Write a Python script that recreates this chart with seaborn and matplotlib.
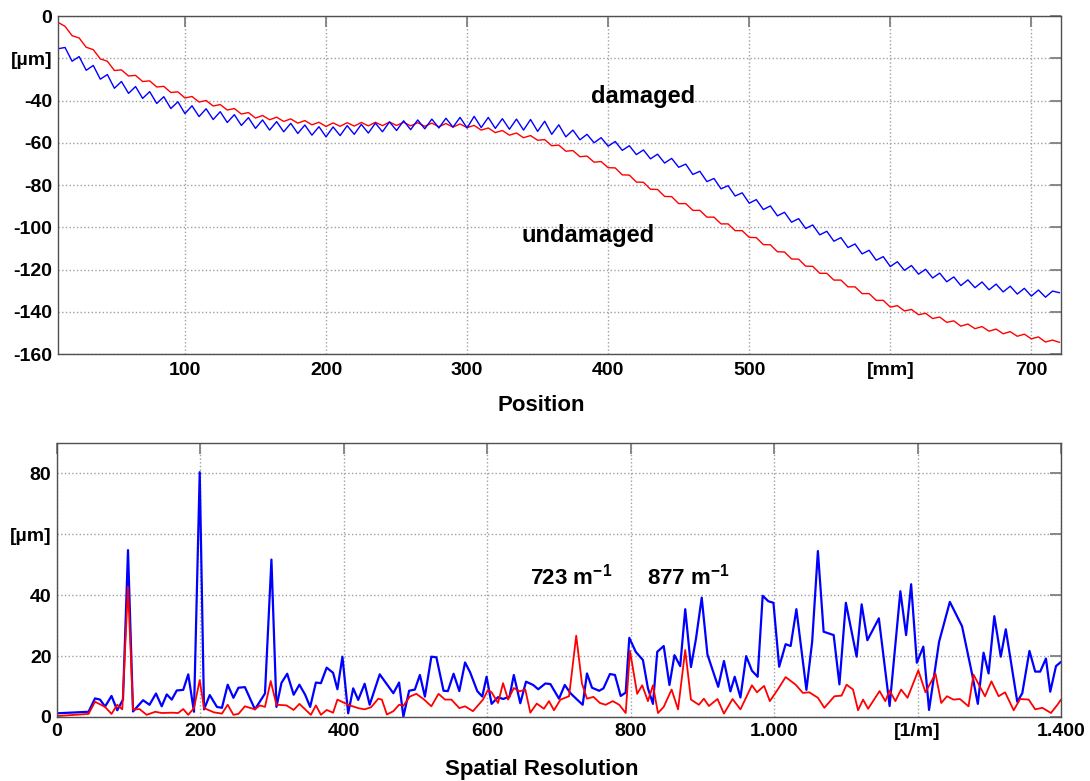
import numpy as np
import seaborn as sns
import matplotlib.pyplot as plt

# upper chart: profile along the rail, sampled every 5 mm
position = np.arange(10, 721, 5)
undamaged = [
    -3.0, -4.9, -9.3, -10.4, -14.8, -15.9, -20.3, -21.4, -25.8, -25.5,
    -28.4, -28.1, -31.0, -30.7, -33.6, -33.3, -36.2, -35.9, -38.8, -38.1,
    -40.7, -40.0, -42.6, -41.9, -44.5, -43.8, -46.4, -45.7, -48.3, -47.1,
    -49.1, -47.9, -49.9, -48.7, -50.7, -49.5, -51.5, -50.3, -52.3, -50.6,
    -52.2, -50.5, -52.1, -50.4, -52.0, -50.3, -51.9, -50.2, -51.8, -50.3,
    -52.0, -50.5, -52.2, -50.7, -52.4, -50.9, -52.6, -51.1, -52.8, -51.8,
    -54.0, -53.0, -55.2, -54.2, -56.4, -55.4, -57.6, -56.6, -58.8, -58.5,
    -61.4, -61.1, -64.0, -63.7, -66.6, -66.3, -69.2, -68.9, -71.8, -71.9,
    -75.2, -75.3, -78.6, -78.7, -82.0, -82.1, -85.4, -85.5, -88.8, -88.8,
    -92.0, -92.0, -95.2, -95.2, -98.4, -98.4, -101.6, -101.6, -104.8, -104.9,
    -108.2, -108.3, -111.6, -111.7, -115.0, -115.1, -118.4, -118.5, -121.8, -121.8,
    -125.0, -125.0, -128.2, -128.2, -131.4, -131.4, -134.6, -134.6, -137.8, -137.1,
    -139.6, -138.9, -141.4, -140.7, -143.2, -142.5, -145.0, -144.3, -146.8, -145.8,
    -148.0, -147.0, -149.2, -148.2, -150.4, -149.4, -151.6, -150.6, -152.8, -151.9,
    -154.3, -153.4, -154.5]
damaged = [
    -15.5, -14.9, -21.4, -19.2, -25.7, -23.4, -29.9, -27.7, -34.2, -31.0,
    -36.6, -33.4, -39.0, -35.8, -41.4, -38.2, -43.8, -40.6, -46.2, -42.5,
    -47.6, -43.9, -49.0, -45.3, -50.4, -46.7, -51.8, -48.1, -53.2, -49.2,
    -54.0, -50.0, -54.8, -50.8, -55.6, -51.6, -56.4, -52.4, -57.2, -52.5,
    -56.6, -51.9, -56.0, -51.3, -55.4, -50.7, -54.8, -50.1, -54.2, -49.6,
    -53.8, -49.2, -53.4, -48.8, -53.0, -48.4, -52.6, -48.0, -53.0, -47.5,
    -52.8, -48.0, -53.2, -48.6, -53.6, -48.8, -54.0, -49.0, -54.6, -49.8,
    -56.0, -51.5, -57.2, -54.0, -58.6, -56.0, -60.0, -57.6, -61.6, -59.4,
    -63.6, -61.4, -65.6, -63.4, -67.6, -65.4, -69.6, -67.4, -71.6, -70.1,
    -75.0, -73.5, -78.4, -76.9, -81.8, -80.3, -85.2, -83.7, -88.6, -86.9,
    -91.6, -89.9, -94.6, -92.9, -97.6, -95.9, -100.6, -98.9, -103.6, -101.9,
    -106.6, -104.9, -109.6, -107.9, -112.6, -110.9, -115.6, -113.9, -118.6, -116.3,
    -120.4, -118.1, -122.2, -119.9, -124.0, -121.7, -125.8, -123.5, -127.6, -124.9,
    -128.6, -125.9, -129.6, -126.9, -130.6, -127.9, -131.6, -128.9, -132.6, -129.7,
    -133.1, -130.2, -131.0]

# lower chart: spectra
freq_damaged = [
    0, 44, 53, 60, 67, 76, 84, 92, 99, 106, 120, 129, 138, 146, 153, 160, 167, 176, 183, 191,
    199, 205, 213, 223, 230, 238, 246, 253, 262, 276, 290, 299, 306, 313, 321, 330, 338, 346, 353, 361,
    368, 376, 385, 391, 398, 406, 413, 420, 429, 436, 450, 469, 477, 483, 491, 499, 506, 513, 522, 529,
    539, 545, 553, 561, 569, 576, 586, 593, 599, 606, 615, 622, 631, 637, 646, 654, 664, 671, 681, 688,
    700, 708, 716, 723, 733, 739, 746, 756, 762, 771, 778, 786, 793, 798, 807, 817, 824, 831, 837, 846,
    854, 861, 869, 876, 884, 891, 899, 907, 922, 930, 939, 945, 953, 961, 969, 977, 984, 992, 999, 1007,
    1016, 1023, 1031, 1045, 1053, 1061, 1069, 1083, 1091, 1100, 1115, 1122, 1130, 1146, 1161, 1176, 1184, 1191, 1199, 1208,
    1216, 1230, 1245, 1262, 1276, 1284, 1292, 1299, 1307, 1316, 1323, 1339, 1346, 1356, 1364, 1371, 1379, 1385, 1393, 1400]
amp_damaged = [
    1.2, 1.7, 6.1, 5.7, 3.4, 6.9, 2.2, 5.7, 54.8, 1.8, 5.5, 4.0, 7.7, 3.5, 7.4, 5.7, 8.7, 8.9, 14.0, 1.7,
    80.4, 2.5, 7.2, 3.3, 3.0, 10.6, 6.3, 9.6, 9.8, 2.5, 7.7, 51.7, 3.3, 11.2, 14.2, 7.3, 10.6, 7.3, 3.3, 11.3,
    11.1, 16.2, 14.5, 9.1, 19.8, 1.2, 9.4, 5.6, 10.9, 4.0, 14.0, 7.8, 11.3, 0.1, 8.6, 9.0, 13.8, 6.7, 19.8, 19.6,
    8.6, 8.5, 14.2, 8.5, 17.9, 14.7, 8.5, 6.7, 13.2, 4.3, 6.5, 5.9, 6.7, 13.8, 4.5, 11.6, 10.5, 9.1, 11.0, 10.8,
    6.0, 10.5, 7.8, 6.2, 4.0, 14.3, 9.6, 8.6, 9.4, 14.1, 13.8, 6.9, 8.0, 26.0, 21.4, 18.7, 9.4, 4.3, 21.4, 23.3,
    10.5, 20.3, 16.7, 35.4, 16.4, 25.7, 39.2, 20.5, 9.9, 18.4, 8.4, 13.2, 6.4, 20.0, 15.2, 13.2, 39.8, 38.0, 37.5, 16.5,
    23.9, 23.3, 35.4, 8.9, 24.7, 54.5, 28.0, 26.9, 10.7, 37.5, 19.8, 37.0, 25.2, 32.4, 3.6, 41.3, 26.9, 43.6, 17.8, 23.1,
    2.3, 24.7, 37.8, 29.8, 14.1, 4.3, 21.1, 14.3, 33.1, 19.8, 28.8, 5.0, 7.8, 21.7, 14.9, 14.9, 19.2, 8.3, 16.7, 18.1]
freq_undamaged = [
    0, 44, 53, 67, 76, 84, 91, 99, 106, 115, 125, 137, 146, 160, 169, 176, 183, 191, 199, 205,
    219, 230, 238, 246, 253, 262, 276, 283, 290, 298, 306, 320, 330, 338, 354, 361, 368, 376, 385, 391,
    406, 420, 429, 438, 448, 453, 460, 469, 477, 483, 492, 501, 511, 522, 532, 541, 550, 561, 569, 580,
    594, 601, 606, 615, 622, 629, 637, 645, 653, 660, 669, 679, 686, 693, 702, 714, 724, 732, 739, 748,
    757, 765, 775, 784, 793, 799, 809, 816, 824, 831, 838, 846, 857, 866, 876, 884, 895, 902, 909, 921,
    930, 942, 953, 969, 976, 986, 994, 1005, 1016, 1030, 1040, 1049, 1061, 1070, 1084, 1094, 1101, 1110, 1117, 1124,
    1131, 1147, 1155, 1161, 1169, 1177, 1186, 1201, 1211, 1225, 1233, 1241, 1250, 1259, 1271, 1278, 1294, 1303, 1313, 1322,
    1334, 1343, 1355, 1364, 1374, 1386, 1395, 1400]
amp_undamaged = [
    0.3, 1.0, 5.0, 3.3, 1.0, 4.0, 2.5, 42.7, 2.4, 2.6, 0.7, 1.7, 1.3, 1.4, 1.3, 2.6, 0.7, 2.9, 12.1, 2.9,
    1.5, 1.1, 4.0, 0.7, 1.0, 3.5, 2.5, 3.8, 3.3, 11.8, 4.0, 3.8, 2.3, 4.3, 0.7, 3.8, 0.7, 2.3, 1.4, 5.7,
    4.0, 2.9, 2.5, 3.2, 6.0, 5.7, 0.8, 1.9, 4.0, 3.7, 6.7, 7.6, 5.9, 3.5, 7.6, 5.7, 5.7, 2.9, 3.5, 1.9,
    5.7, 8.9, 8.1, 4.6, 11.1, 5.7, 9.5, 8.4, 9.0, 1.4, 4.4, 2.7, 5.2, 2.2, 5.7, 6.8, 26.7, 11.0, 6.0, 6.6,
    4.6, 4.0, 5.2, 4.0, 1.3, 21.7, 7.6, 10.4, 5.2, 10.4, 1.3, 3.3, 9.0, 2.5, 22.0, 5.7, 4.0, 6.0, 3.6, 5.9,
    1.1, 5.9, 2.5, 10.4, 8.1, 10.2, 5.2, 9.0, 13.1, 10.6, 7.9, 8.1, 6.3, 3.0, 6.8, 7.0, 10.6, 9.0, 2.2, 5.7,
    2.7, 8.5, 5.2, 8.7, 5.2, 9.0, 6.3, 15.3, 8.1, 14.2, 4.6, 6.8, 5.7, 5.9, 3.5, 13.9, 6.8, 11.7, 6.8, 8.1,
    2.2, 5.9, 5.7, 2.5, 3.0, 1.3, 4.0, 5.7]

top_xticks = [100, 200, 300, 400, 500, 600, 700]
top_xlabels = ['100', '200', '300', '400', '500', '[mm]', '700']
top_yticks = [-160, -140, -120, -100, -80, -60, -40, -20, 0]
top_ylabels = ['-160', '-140', '-120', '-100', '-80', '-60', '-40', '[µm]', '0']
bot_xticks = [0, 200, 400, 600, 800, 1000, 1200, 1400]
bot_xlabels = ['0', '200', '400', '600', '800', '1.000', '[1/m]', '1.400']
bot_yticks = [0, 20, 40, 60, 80]
bot_ylabels = ['0', '20', '40', '[µm]', '80']

sns.set_theme(style='white')
plt.rcParams['font.family'] = ['Liberation Sans', 'DejaVu Sans']
plt.rcParams['font.weight'] = 'bold'
plt.rcParams['axes.labelweight'] = 'bold'
plt.rcParams['text.color'] = 'black'
plt.rcParams['axes.labelcolor'] = 'black'
plt.rcParams['mathtext.fontset'] = 'custom'
plt.rcParams['mathtext.rm'] = 'Liberation Sans:bold'
plt.rcParams['mathtext.default'] = 'rm'

fig = plt.figure(figsize=(10.9, 7.81), dpi=100)
ax1 = fig.add_axes([0.0532, 0.5467, 0.9202, 0.4328])
ax2 = fig.add_axes([0.0523, 0.0820, 0.9211, 0.3508])

sns.lineplot(x=position, y=undamaged, color='#ff0000', lw=1.0, ax=ax1)
sns.lineplot(x=position, y=damaged, color='#0000ff', lw=1.0, ax=ax1)
sns.lineplot(x=freq_damaged, y=amp_damaged, color='#0000ff', lw=1.6, ax=ax2)
sns.lineplot(x=freq_undamaged, y=amp_undamaged, color='#ff0000', lw=1.3, ax=ax2)

ax1.set_xlim(10, 721)
ax1.set_ylim(-160, 0)
ax1.set_xticks(top_xticks, top_xlabels)
ax1.set_yticks(top_yticks, top_ylabels)
ax2.set_xlim(0, 1400)
ax2.set_ylim(0, 90)
ax2.set_xticks(bot_xticks, bot_xlabels)
ax2.set_yticks(bot_yticks, bot_ylabels)

for ax in (ax1, ax2):
    ax.grid(True, linestyle=':', color='#a0a0a0', linewidth=1.0)
    ax.tick_params(direction='in', length=8, width=1.3, color='#808080',
                   labelcolor='black', top=True, right=True, labelsize=14, pad=4)
    for s in ax.spines.values():
        s.set_color('#505050')
        s.set_linewidth(1.0)
ax1.tick_params(axis='x', pad=6)

ax1.set_xlabel('Position', fontsize=16)
ax1.xaxis.set_label_coords(0.4816, -0.121)
ax2.set_xlabel('Spatial Resolution', fontsize=16)
ax2.xaxis.set_label_coords(0.483, -0.153)

ax1.text(425, -38, 'damaged', fontsize=17, ha='center', va='center')
ax1.text(386, -104, 'undamaged', fontsize=17, ha='center', va='center')
ax2.text(717, 46, '723 m$^{-1}$', fontsize=16, ha='center', va='center')
ax2.text(880, 46, '877 m$^{-1}$', fontsize=16, ha='center', va='center')

fig.savefig('out.png', dpi=100)
